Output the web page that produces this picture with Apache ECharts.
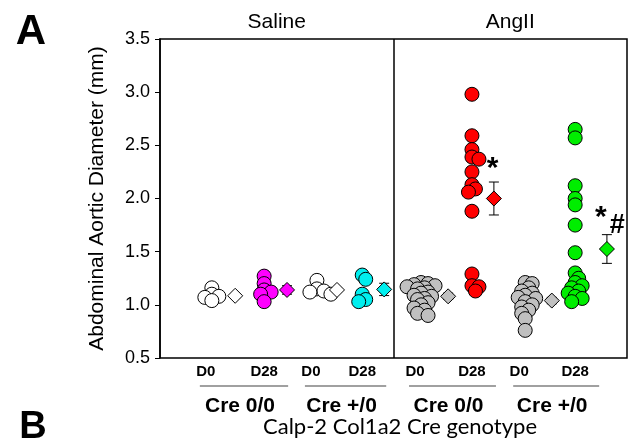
<!DOCTYPE html>
<html>
<head>
<meta charset="utf-8">
<script src="https://cdn.jsdelivr.net/npm/echarts@6/dist/echarts.min.js"></script>
<style>
html, body { margin: 0; padding: 0; background: #fff; }
#main { width: 635px; height: 448px; }
</style>
</head>
<body>
<div id="main"></div>
<script>
var salineCre00D0 = [1.16, 1.10, 1.08, 1.07, 1.04];
var salineCre00D28 = [1.27, 1.20, 1.14, 1.12, 1.10, 1.03];
var salineCrep0D0 = [1.23, 1.15, 1.13, 1.12, 1.10];
var salineCrep0D28 = [1.28, 1.24, 1.10, 1.05, 1.03];
var angCre00D0 = [1.21, 1.20, 1.19, 1.18, 1.17, 1.16, 1.15, 1.12, 1.11, 1.09, 1.08, 1.06, 1.05, 1.02, 1.00, 0.97, 0.95, 0.92, 0.90];
var angCre00D28 = [2.98, 2.59, 2.46, 2.39, 2.37, 2.25, 2.13, 2.09, 2.06, 1.88, 1.29, 1.18, 1.17, 1.13];
var angCrep0D0 = [1.21, 1.20, 1.16, 1.13, 1.11, 1.09, 1.07, 1.06, 1.03, 1.00, 0.98, 0.95, 0.92, 0.87, 0.76];
var angCrep0D28 = [2.65, 2.57, 2.12, 2.00, 1.94, 1.75, 1.49, 1.30, 1.25, 1.21, 1.18, 1.16, 1.13, 1.11, 1.08, 1.06, 1.03];

// group means and SEM
var groupMeans = [1.085, 1.14, 1.14, 1.145, 1.08, 2.00, 1.04, 1.525];
var groupSem = [0.02, 0.04, 0.02, 0.058, 0.03, 0.155, 0.03, 0.135];

var dayLabels = ['D0', 'D28', 'D0', 'D28', 'D0', 'D28', 'D0', 'D28'];
var genotypeLabels = ['Cre 0/0', 'Cre +/0', 'Cre 0/0', 'Cre +/0'];
var treatmentLabels = ['Saline', 'AngII'];
var yTicks = [0.5, 1.0, 1.5, 2.0, 2.5, 3.0, 3.5];

var groups = [salineCre00D0, salineCre00D28, salineCrep0D0, salineCrep0D28,
              angCre00D0, angCre00D28, angCrep0D0, angCrep0D28];
var colors = ['#ffffff', '#ff00ff', '#ffffff', '#00eeee', '#c0c0c0', '#ff0000', '#c0c0c0', '#00ee00'];

// layout (x axis runs 0..10 across the frame)
var colX = [1.11, 2.23, 3.36, 4.33, 5.59, 6.68, 7.82, 8.89];
var meanX = [1.61, 2.72, 3.79, 4.80, 6.17, 7.15, 8.39, 9.57];
var G = { left: 160, right: 8, top: 39, bottom: 90 };
var pxX = (635 - G.left - G.right) / 10;
var pxY = (448 - G.top - G.bottom) / 3;

// simple beeswarm so overlapping circles spread sideways
function swarm(vals, cx) {
    var sorted = vals.slice().sort(function (a, b) { return b - a; });
    var placed = [];
    sorted.forEach(function (v) {
        var py = v * pxY, off = 0;
        for (var k = 0; k < 30; k++) {
            off = (k % 2 ? 1 : -1) * Math.ceil(k / 2) * 3.5;
            var ok = placed.every(function (p) {
                var dx = p[0] - off, dy = p[1] - py;
                return dx * dx + dy * dy >= 30;
            });
            if (ok) break;
        }
        placed.push([off, py]);
    });
    return placed.map(function (p) { return [cx + p[0] / pxX, p[1] / pxY]; });
}

var series = [];
groups.forEach(function (g, i) {
    series.push({
        type: 'scatter',
        data: swarm(g, colX[i]),
        symbol: 'circle',
        symbolSize: 14,
        itemStyle: { color: colors[i], borderColor: '#000', borderWidth: 1, opacity: 1 },
        z: 3,
        silent: true
    });
});

series.push({
    type: 'custom',
    data: groupMeans.map(function (m, i) { return [meanX[i], m - groupSem[i], m + groupSem[i]]; }),
    renderItem: function (params, api) {
        var a = api.coord([api.value(0), api.value(2)]);
        var b = api.coord([api.value(0), api.value(1)]);
        var st = { stroke: '#000', lineWidth: 1 };
        return {
            type: 'group',
            children: [
                { type: 'line', shape: { x1: a[0], y1: a[1], x2: b[0], y2: b[1] }, style: st },
                { type: 'line', shape: { x1: a[0] - 5, y1: a[1], x2: a[0] + 5, y2: a[1] }, style: st },
                { type: 'line', shape: { x1: b[0] - 5, y1: b[1], x2: b[0] + 5, y2: b[1] }, style: st }
            ]
        };
    },
    z: 4,
    silent: true
});

series.push({
    type: 'scatter',
    data: groupMeans.map(function (m, i) {
        return { value: [meanX[i], m], itemStyle: { color: colors[i] } };
    }),
    symbol: 'diamond',
    symbolSize: [15, 15],
    itemStyle: { borderColor: '#000', borderWidth: 1, opacity: 1 },
    z: 5,
    silent: true,
    markLine: {
        silent: true,
        symbol: 'none',
        label: { show: false },
        lineStyle: { color: '#000', width: 1.5, type: 'solid' },
        data: [{ xAxis: 5.0 }]
    }
});

// significance marks
var marks = [
    { text: '*', at: [7.12, 2.28], size: 30 },
    { text: '*', at: [9.44, 1.82], size: 30 },
    { text: '#', at: [9.79, 1.75], size: 27 }
];

var chart = echarts.init(document.getElementById('main'));
chart.setOption({
    animation: false,
    backgroundColor: '#fff',
    grid: { left: G.left, right: G.right, top: G.top, bottom: G.bottom, show: true, borderColor: '#000', borderWidth: 1.5, backgroundColor: 'transparent' },
    xAxis: { type: 'value', min: 0, max: 10, show: false },
    yAxis: {
        type: 'value', min: 0.5, max: 3.5, interval: 0.5,
        name: 'Abdominal Aortic Diameter (mm)',
        nameLocation: 'middle', nameGap: 52,
        nameTextStyle: { fontSize: 21, color: '#000', fontFamily: 'Liberation Sans' },
        axisLine: { show: true, lineStyle: { color: '#000', width: 1.5 } },
        axisTick: { show: true, inside: false, length: 5, lineStyle: { color: '#000', width: 1 } },
        axisLabel: {
            margin: 10, fontSize: 18, color: '#000', fontFamily: 'Liberation Sans',
            formatter: function (v) { return yTicks.indexOf(v) >= 0 ? v.toFixed(1) : ''; }
        },
        splitLine: { show: false }
    },
    series: series
});

// labels under the frame, placed from the x axis positions
var gfx = [];
var baseY = 448 - G.bottom;
dayLabels.forEach(function (t, i) {
    var p = chart.convertToPixel({ gridIndex: 0 }, [colX[i], 1]);
    gfx.push({ type: 'text', x: p[0] + (i % 2 ? 0 : -6), y: baseY + 14, style: { text: t, font: 'bold 15px "Liberation Sans"', fill: '#000', align: 'center', verticalAlign: 'middle' } });
});
genotypeLabels.forEach(function (t, i) {
    var a = chart.convertToPixel({ gridIndex: 0 }, [colX[2 * i], 1])[0];
    var b = chart.convertToPixel({ gridIndex: 0 }, [colX[2 * i + 1], 1])[0];
    gfx.push({ type: 'line', shape: { x1: a - 12, y1: baseY + 28, x2: b + 24, y2: baseY + 28 }, style: { stroke: '#808080', lineWidth: 1.5 } });
    gfx.push({ type: 'text', x: (a + b) / 2 + 2, y: baseY + 48, style: { text: t, font: 'bold 21px "Liberation Sans"', fill: '#000', align: 'center', verticalAlign: 'middle' } });
});
treatmentLabels.forEach(function (t, i) {
    var a = chart.convertToPixel({ gridIndex: 0 }, [i * 5, 1])[0];
    var b = chart.convertToPixel({ gridIndex: 0 }, [i * 5 + 5, 1])[0];
    gfx.push({ type: 'text', x: (a + b) / 2, y: 22, style: { text: t, font: '21px "Liberation Sans"', fill: '#000', align: 'center', verticalAlign: 'middle' } });
});
marks.forEach(function (m) {
    var p = chart.convertToPixel({ gridIndex: 0 }, m.at);
    gfx.push({ type: 'text', x: p[0], y: p[1], z: 10, style: { text: m.text, font: 'bold ' + m.size + 'px "Liberation Sans"', fill: '#000', align: 'center', verticalAlign: 'middle' } });
});
gfx.push({ type: 'text', x: 400, y: 427, style: { text: 'Calp-2 Col1a2 Cre genotype', font: '22px Lato', fill: '#000', align: 'center', verticalAlign: 'middle' } });
gfx.push({ type: 'text', x: 31, y: 32, style: { text: 'A', font: 'bold 42px "Liberation Sans"', fill: '#000', align: 'center', verticalAlign: 'middle' } });
gfx.push({ type: 'text', x: 33, y: 428, style: { text: 'B', font: 'bold 38px "Liberation Sans"', fill: '#000', align: 'center', verticalAlign: 'middle' } });
chart.setOption({ graphic: gfx });
</script>
</body>
</html>
